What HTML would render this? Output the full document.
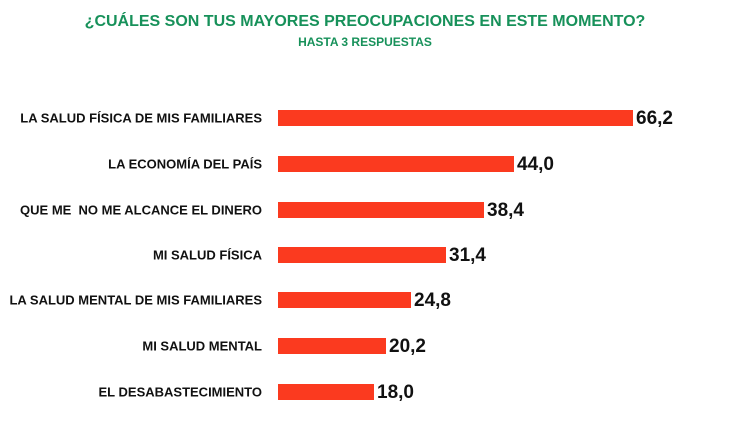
<!DOCTYPE html>
<html><head><meta charset="utf-8"><style>
body{margin:0;width:730px;height:426px;background:#fff;overflow:hidden;position:relative;font-family:"Liberation Sans",sans-serif;font-weight:bold}
.t{position:absolute;left:0;width:730px;text-align:center;color:#17915a}
.l{position:absolute;right:468px;font-size:13px;color:#111;white-space:nowrap;transform:translateY(-50%)}
.b{position:absolute;left:278px;height:16px;background:#fb3a1f;transform:translateY(-50%)}
.v{position:absolute;font-size:19px;color:#111;transform:translateY(-50%)}
</style></head><body>
<div class="t" style="top:13px;font-size:16px">¿CUÁLES SON TUS MAYORES PREOCUPACIONES EN ESTE MOMENTO?</div>
<div class="t" style="top:35px;font-size:12px">HASTA 3 RESPUESTAS</div>
<div class="l" style="top:118px">LA SALUD FÍSICA DE MIS FAMILIARES</div><div class="b" style="top:118px;width:355px"></div><div class="v" style="top:119px;left:636px">66,2</div>
<div class="l" style="top:164px">LA ECONOMÍA DEL PAÍS</div><div class="b" style="top:164px;width:236px"></div><div class="v" style="top:165px;left:517px">44,0</div>
<div class="l" style="top:210px">QUE ME &nbsp;NO ME ALCANCE EL DINERO</div><div class="b" style="top:210px;width:206px"></div><div class="v" style="top:211px;left:487px">38,4</div>
<div class="l" style="top:255px">MI SALUD FÍSICA</div><div class="b" style="top:255px;width:168px"></div><div class="v" style="top:256px;left:449px">31,4</div>
<div class="l" style="top:300px">LA SALUD MENTAL DE MIS FAMILIARES</div><div class="b" style="top:300px;width:133px"></div><div class="v" style="top:301px;left:414px">24,8</div>
<div class="l" style="top:346px">MI SALUD MENTAL</div><div class="b" style="top:346px;width:108px"></div><div class="v" style="top:347px;left:389px">20,2</div>
<div class="l" style="top:392px">EL DESABASTECIMIENTO</div><div class="b" style="top:392px;width:96px"></div><div class="v" style="top:393px;left:377px">18,0</div>
</body></html>
